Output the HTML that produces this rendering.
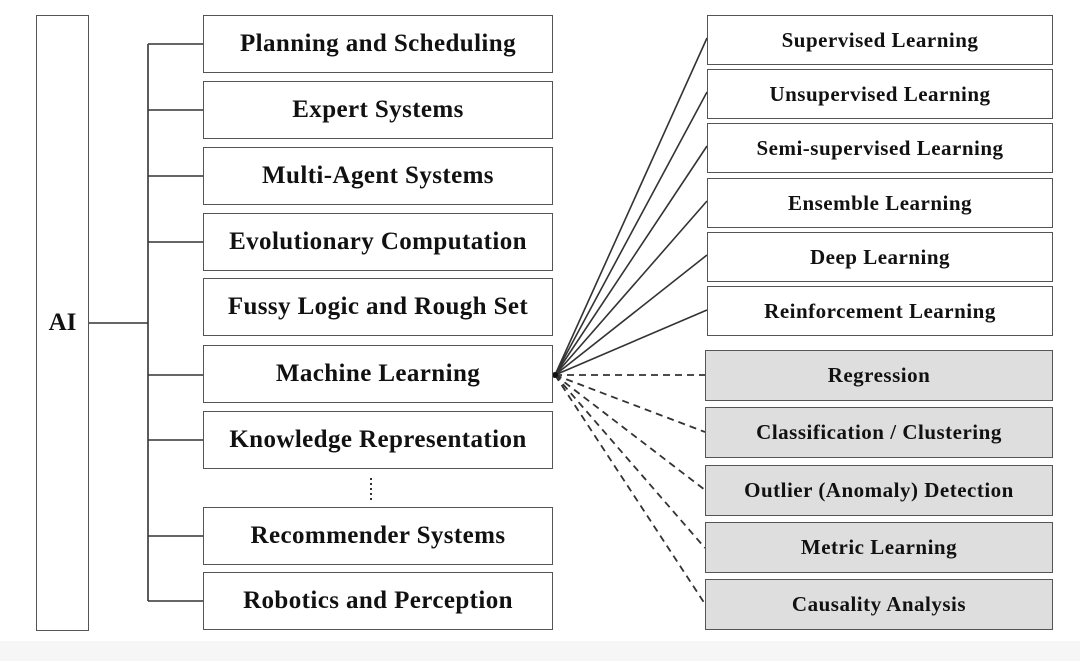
<!DOCTYPE html>
<html><head><style>
body{margin:0;width:1080px;height:661px;background:#fff;position:relative;overflow:hidden;font-family:"Liberation Serif",serif;font-weight:bold;color:#111}
.b{position:absolute;border:1.5px solid #555;box-sizing:border-box;display:flex;align-items:center;justify-content:center;background:#fff;white-space:nowrap}
.l{left:203px;width:350px;height:58px;font-size:25px;letter-spacing:0.4px}
.r{left:707px;width:346px;height:50px;font-size:21px;letter-spacing:0.5px}
.g{left:705px;width:348px;height:51px;font-size:21px;letter-spacing:0.5px;background:#dedede}
</style></head><body>
<div style="position:absolute;left:0;top:641px;width:1080px;height:20px;background:#f6f6f6"></div>
<svg width="1080" height="661" style="position:absolute;left:0;top:0">
<g stroke="#333" stroke-width="1.6" fill="none">
<line x1="88" y1="323" x2="148" y2="323"/>
<line x1="148" y1="44" x2="148" y2="601"/>
<line x1="148" y1="44" x2="203" y2="44"/><line x1="148" y1="110" x2="203" y2="110"/>
<line x1="148" y1="176" x2="203" y2="176"/><line x1="148" y1="242" x2="203" y2="242"/>
<line x1="148" y1="375" x2="203" y2="375"/><line x1="148" y1="440" x2="203" y2="440"/>
<line x1="148" y1="536" x2="203" y2="536"/><line x1="148" y1="601" x2="203" y2="601"/>
<line x1="555" y1="375" x2="707" y2="38"/><line x1="555" y1="375" x2="707" y2="92"/>
<line x1="555" y1="375" x2="707" y2="146"/><line x1="555" y1="375" x2="707" y2="201"/>
<line x1="555" y1="375" x2="707" y2="255"/><line x1="555" y1="375" x2="707" y2="310"/>
</g>
<g stroke="#333" stroke-width="1.8" fill="none" stroke-dasharray="7,5">
<line x1="555" y1="375" x2="705" y2="375"/><line x1="555" y1="375" x2="705" y2="432"/>
<line x1="555" y1="375" x2="705" y2="490"/><line x1="555" y1="375" x2="705" y2="548"/>
<line x1="555" y1="375" x2="705" y2="604"/>
</g>
<circle cx="555" cy="375" r="3" fill="#111"/>
<line x1="371" y1="478" x2="371" y2="502" stroke="#333" stroke-width="2" stroke-dasharray="2,3"/>
</svg>
<div class="b" style="left:36px;top:15px;width:53px;height:616px;font-size:25px">AI</div>
<div class="b l" style="top:15px">Planning and Scheduling</div>
<div class="b l" style="top:81px">Expert Systems</div>
<div class="b l" style="top:147px">Multi-Agent Systems</div>
<div class="b l" style="top:213px">Evolutionary Computation</div>
<div class="b l" style="top:278px">Fussy Logic and Rough Set</div>
<div class="b l" style="top:345px">Machine Learning</div>
<div class="b l" style="top:411px">Knowledge Representation</div>
<div class="b l" style="top:507px">Recommender Systems</div>
<div class="b l" style="top:572px">Robotics and Perception</div>
<div class="b r" style="top:15px">Supervised Learning</div>
<div class="b r" style="top:69px">Unsupervised Learning</div>
<div class="b r" style="top:123px">Semi-supervised Learning</div>
<div class="b r" style="top:178px">Ensemble Learning</div>
<div class="b r" style="top:232px">Deep Learning</div>
<div class="b r" style="top:286px">Reinforcement Learning</div>
<div class="b g" style="top:350px">Regression</div>
<div class="b g" style="top:407px">Classification / Clustering</div>
<div class="b g" style="top:465px">Outlier (Anomaly) Detection</div>
<div class="b g" style="top:522px">Metric Learning</div>
<div class="b g" style="top:579px">Causality Analysis</div>
</body></html>
